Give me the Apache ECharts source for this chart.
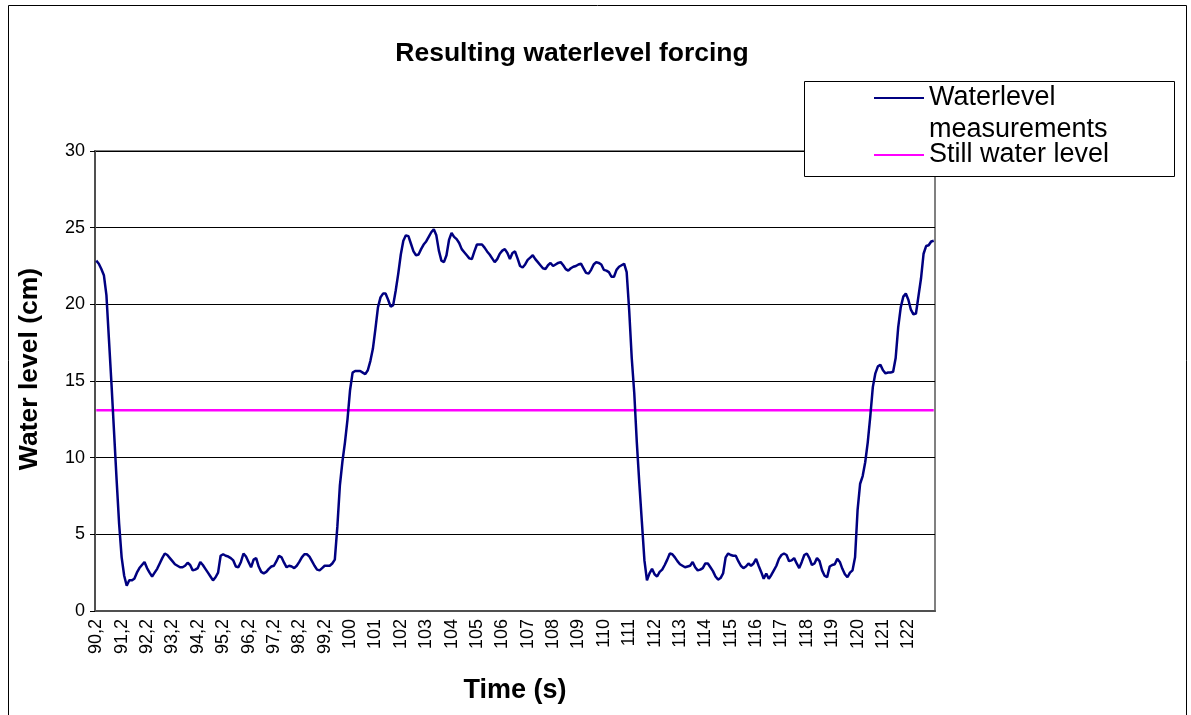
<!DOCTYPE html>
<html>
<head>
<meta charset="utf-8">
<script src="https://cdn.jsdelivr.net/npm/echarts@6/dist/echarts.min.js"></script>
<style>
  html, body { margin: 0; padding: 0; background: #fff; }
  #chart { width: 1191px; height: 715px; }
</style>
</head>
<body>
<div id="chart"></div>
<script>
// Sampling: one reading every 0.1 s starting at 90.2 s
const startTime = 90.2;
const sampleStep = 0.1;

// Measured water level (cm), one value per sample
const waterLevel = [
  22.85, 22.65, 22.3, 21.9, 20.6, 17.7, 14.8, 11.7, 8.6, 5.7,
  3.5, 2.3, 1.65, 2.0, 2.0, 2.1, 2.5, 2.8, 3.0, 3.2,
  2.8, 2.5, 2.25, 2.5, 2.75, 3.1, 3.45, 3.75, 3.65, 3.45,
  3.25, 3.05, 2.95, 2.85, 2.85, 2.95, 3.15, 3.0, 2.65, 2.7,
  2.8, 3.2, 3.0, 2.75, 2.5, 2.25, 2.0, 2.2, 2.5, 3.6,
  3.7, 3.6, 3.55, 3.45, 3.3, 2.9, 2.85, 3.2, 3.75, 3.55,
  3.2, 2.85, 3.35, 3.45, 2.9, 2.55, 2.45, 2.55, 2.75, 2.9,
  2.95, 3.25, 3.6, 3.5, 3.15, 2.85, 2.95, 2.9, 2.8, 2.95,
  3.2, 3.5, 3.7, 3.7, 3.55, 3.25, 2.95, 2.7, 2.65, 2.8,
  2.95, 2.95, 2.95, 3.1, 3.35, 5.5, 8.2, 9.75, 11.0, 12.5,
  14.4, 15.55, 15.65, 15.65, 15.65, 15.55, 15.45, 15.7, 16.3, 17.1,
  18.4, 19.8, 20.45, 20.7, 20.7, 20.3, 19.85, 19.95, 20.9, 22.0,
  23.25, 24.15, 24.5, 24.45, 23.95, 23.45, 23.2, 23.25, 23.6, 23.9,
  24.1, 24.4, 24.7, 24.9, 24.5, 23.5, 22.85, 22.75, 23.2, 24.2,
  24.65, 24.4, 24.25, 24.0, 23.6, 23.4, 23.2, 23.0, 22.95, 23.45,
  23.9, 23.9, 23.9, 23.7, 23.45, 23.25, 23.0, 22.75, 22.95, 23.3,
  23.5, 23.6, 23.35, 22.95, 23.35, 23.45, 23.0, 22.5, 22.4, 22.6,
  22.9, 23.05, 23.2, 22.95, 22.75, 22.55, 22.35, 22.3, 22.55, 22.7,
  22.5, 22.6, 22.7, 22.75, 22.55, 22.3, 22.2, 22.35, 22.45, 22.5,
  22.6, 22.65, 22.35, 22.05, 22.0, 22.25, 22.6, 22.75, 22.7, 22.6,
  22.25, 22.2, 22.1, 21.8, 21.8, 22.25, 22.45, 22.55, 22.65, 22.1,
  19.6, 16.5, 14.2, 11.0, 8.3, 5.8, 3.3, 2.0, 2.45, 2.75,
  2.4, 2.25, 2.55, 2.7, 3.0, 3.35, 3.75, 3.7, 3.5, 3.25,
  3.05, 2.95, 2.85, 2.9, 2.95, 3.2, 2.85, 2.65, 2.7, 2.8,
  3.1, 3.1, 2.85, 2.6, 2.25, 2.05, 2.15, 2.45, 3.5, 3.75,
  3.65, 3.6, 3.6, 3.25, 2.95, 2.8, 2.9, 3.1, 2.95, 3.1,
  3.4, 2.95, 2.55, 2.1, 2.45, 2.1, 2.35, 2.65, 2.95, 3.4,
  3.65, 3.75, 3.65, 3.25, 3.3, 3.45, 3.1, 2.8, 3.2, 3.65,
  3.75, 3.45, 3.0, 3.1, 3.45, 3.25, 2.65, 2.3, 2.2, 2.9,
  3.0, 3.05, 3.4, 3.2, 2.75, 2.4, 2.2, 2.5, 2.65, 3.5,
  6.6, 8.3, 8.8, 9.7, 11.0, 12.7, 14.6, 15.5, 15.95, 16.05,
  15.7, 15.5, 15.55, 15.55, 15.6, 16.5, 18.5, 19.8, 20.5, 20.7,
  20.3, 19.65, 19.35, 19.4, 20.55, 21.7, 23.3, 23.8, 23.85, 24.1,
  24.15
];

// Still water level (cm)
const stillWaterLevel = 13.1;

// Time-axis labels, one for every 10 samples
const timeTickLabels = [
  '90,2', '91,2', '92,2', '93,2', '94,2', '95,2', '96,2', '97,2', '98,2', '99,2',
  '100', '101', '102', '103', '104', '105', '106', '107', '108', '109', '110',
  '111', '112', '113', '114', '115', '116', '117', '118', '119', '120', '121', '122'
];
const labelEvery = 10;

// Category axis values: the sample times
const timeCategories = waterLevel.map((_, i) => (startTime + i * sampleStep).toFixed(1));

const FONT = '"Liberation Sans", Arial, sans-serif';

const chart = echarts.init(document.getElementById('chart'), null, { renderer: 'canvas' });

chart.setOption({
  backgroundColor: '#ffffff',
  animation: false,
  title: {
    text: 'Resulting waterlevel forcing',
    left: 567,
    top: 35,
    textAlign: 'center',
    textStyle: { fontFamily: FONT, fontWeight: 'bold', fontSize: 26.5, color: '#000' }
  },
  grid: {
    left: 95, top: 151, right: 256, bottom: 104,
    show: true,
    borderColor: '#808080',
    borderWidth: 2,
    backgroundColor: '#ffffff'
  },
  legend: {
    orient: 'vertical',
    left: 873,
    top: 50,
    z: 6,
    padding: 0,
    itemGap: -7,
    itemWidth: 50,
    itemHeight: 14,
    itemStyle: { opacity: 0 },
    textStyle: { fontFamily: FONT, fontSize: 27, color: '#000', lineHeight: 32 },
    formatter: function (name) {
      return name === 'Waterlevel measurements' ? ' \nWaterlevel\nmeasurements' : name;
    },
    data: ['Waterlevel measurements', 'Still water level']
  },
  xAxis: {
    type: 'category',
    data: timeCategories,
    boundaryGap: true,
    name: 'Time (s)',
    nameLocation: 'middle',
    nameGap: 66,
    nameTextStyle: { fontFamily: FONT, fontWeight: 'bold', fontSize: 27, color: '#000' },
    axisLine: { show: true, lineStyle: { color: '#505050', width: 2 } },
    axisTick: { show: false },
    axisLabel: {
      interval: labelEvery - 1,
      rotate: 90,
      margin: 8,
      fontFamily: FONT,
      fontSize: 18,
      color: '#000',
      formatter: function (val, idx) {
        return timeTickLabels[Math.round(idx / labelEvery)] || '';
      }
    },
    splitLine: { show: false }
  },
  yAxis: {
    type: 'value',
    min: 0,
    max: 30,
    interval: 5,
    name: 'Water level (cm)',
    nameLocation: 'middle',
    nameRotate: 90,
    nameGap: 52,
    nameTextStyle: { fontFamily: FONT, fontWeight: 'bold', fontSize: 26.5, color: '#000', padding: [0, 0, 0, 24] },
    axisLine: { show: true, lineStyle: { color: '#505050', width: 2 } },
    axisTick: { show: true, inside: false, length: 5, lineStyle: { color: '#000', width: 1 } },
    axisLabel: { margin: 10, fontFamily: FONT, fontSize: 18, color: '#000' },
    splitLine: { show: true, lineStyle: { color: '#000', width: 1 } }
  },
  graphic: [
    {
      type: 'rect',
      z: 100,
      shape: { x: 8.5, y: 5.5, width: 1178, height: 730 },
      style: { fill: 'none', stroke: '#000', lineWidth: 1 },
      silent: true
    },
    {
      type: 'rect',
      z: 5,
      shape: { x: 804.5, y: 81.5, width: 370, height: 95 },
      style: { fill: '#fff', stroke: '#000', lineWidth: 1 },
      silent: true
    }
  ],
  series: [
    {
      name: 'Waterlevel measurements',
      type: 'line',
      data: waterLevel,
      symbol: 'none',
      smooth: false,
      lineStyle: { color: '#000080', width: 2.5 },
      itemStyle: { color: '#000080' },
      z: 3
    },
    {
      name: 'Still water level',
      type: 'line',
      data: [[0, stillWaterLevel], [waterLevel.length - 1, stillWaterLevel]],
      symbol: 'none',
      lineStyle: { color: '#ff00ff', width: 2.5 },
      itemStyle: { color: '#ff00ff' },
      z: 2
    }
  ]
});
</script>
</body>
</html>
